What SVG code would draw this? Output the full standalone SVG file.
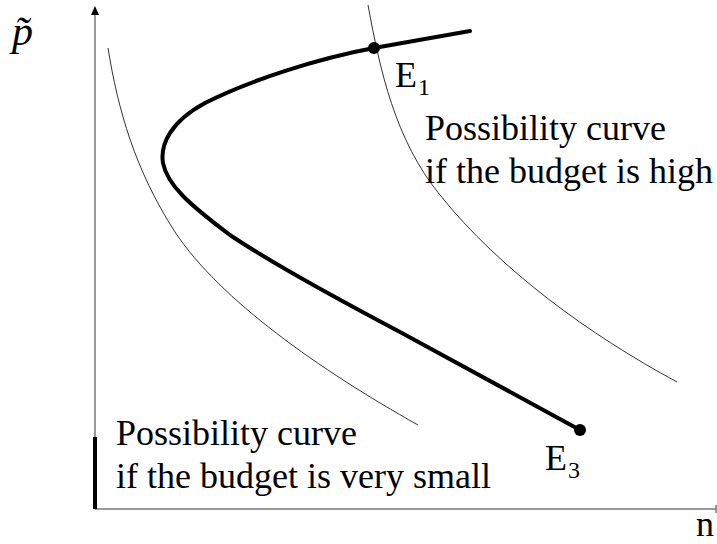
<svg xmlns="http://www.w3.org/2000/svg" width="717" height="544" viewBox="0 0 717 544">
<style>
.axis{stroke:#777;stroke-width:1.5;fill:none}
.thin{stroke:#333;stroke-width:1;fill:none}
.thick{stroke:#000;stroke-width:4;fill:none;stroke-linecap:round;stroke-linejoin:round}
.lbl{font-family:"Liberation Serif","Times New Roman",serif;font-size:36px;fill:#000}
.sub{font-family:"Liberation Serif","Times New Roman",serif;font-size:24px;fill:#000}
</style>
<rect width="717" height="544" fill="#fff"/>
<g id="axes">
  <line class="axis" x1="95" y1="14" x2="95" y2="509"/>
  <polygon points="95,6 91,15 99,15" fill="#000"/>
  <line class="axis" x1="95" y1="509" x2="716" y2="509"/>
  <line class="axis" x1="716" y1="505" x2="716" y2="513" stroke-width="1"/>
  <line x1="95" y1="437" x2="95" y2="509" stroke="#000" stroke-width="4"/>
  <text class="lbl" x="12" y="45" style="font-style:italic;font-size:42px">p&#x303;</text>
  <text class="lbl" x="696" y="536">n</text>
</g>
<g id="curve-small">
  <path class="thin" d="M108,48 C118,110 135,170 175,232 C220,300 320,370 418,425"/>
  <text class="lbl" x="116" y="445">Possibility curve</text>
  <text class="lbl" x="116" y="488">if the budget is very small</text>
</g>
<g id="curve-high">
  <path class="thin" d="M368,5 C380,70 395,140 440,195 C500,270 590,335 677,382"/>
  <text class="lbl" x="425" y="140">Possibility curve</text>
  <text class="lbl" x="425" y="183">if the budget is high</text>
</g>
<g id="path-main">
  <path class="thick" d="M470,31 L374,48 C320,58 250,80 205,103 C170,122 160,145 163,163 C167,185 190,205 230,235 C270,262 330,295 400,332 L580,430"/>
</g>
<g id="E1">
  <circle cx="374" cy="48" r="6" fill="#000"/>
  <text class="lbl" x="395" y="87">E</text>
  <text class="sub" x="418" y="95">1</text>
</g>
<g id="E3">
  <circle cx="580" cy="430" r="6" fill="#000"/>
  <text class="lbl" x="545" y="470">E</text>
  <text class="sub" x="568" y="478">3</text>
</g>
</svg>
